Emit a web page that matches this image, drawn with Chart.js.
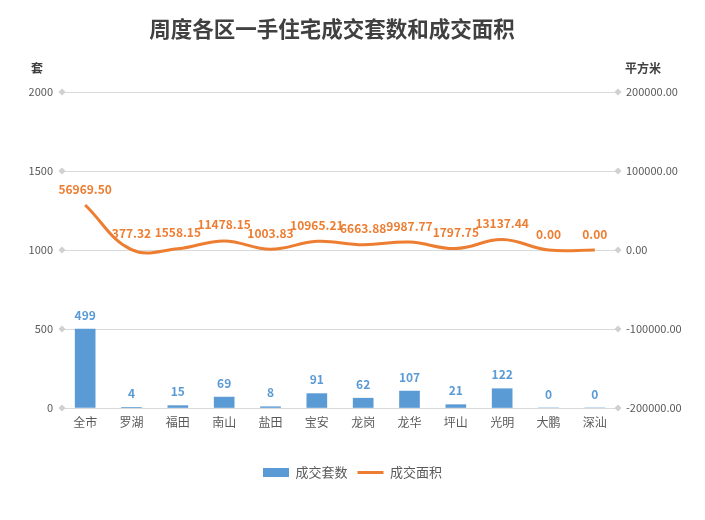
<!DOCTYPE html>
<html>
<head>
<meta charset="utf-8">
<script src="https://cdn.jsdelivr.net/npm/chart.js@4"></script>
<style>
  body { margin: 0; background: #fff; }
  #wrap { width: 705px; height: 520px; }
</style>
</head>
<body>
<div id="wrap"><canvas id="chart" width="705" height="520"></canvas></div>
<script>
// 周度各区一手住宅成交
const districts = ["全市", "罗湖", "福田", "南山", "盐田", "宝安", "龙岗", "龙华", "坪山", "光明", "大鹏", "深汕"];
const units = [499, 4, 15, 69, 8, 91, 62, 107, 21, 122, 0, 0];
const areas = [56969.50, 377.32, 1558.15, 11478.15, 1003.83, 10965.21, 6663.88, 9987.77, 1797.75, 13137.44, 0.00, 0.00];
const leftTicks = [0, 2000, 500];
const rightTicks = [-200000, 200000, 100000];

const BLUE = "#5B9BD5";
const ORANGE = "#ED7D31";
const FONT = "'Noto Sans CJK SC', 'Noto Sans', sans-serif";

Chart.defaults.font.family = FONT;
Chart.defaults.color = "#595959";

// 标题、单位、数据标签、网格端点
const decor = {
    id: "decor",
    afterDatasetsDraw(chart) {
        const c = chart.ctx;
        const area = chart.chartArea;
        c.save();
        // 网格端点小菱形
        const y = chart.scales.y;
        y.ticks.forEach(t => {
            const py = y.getPixelForValue(t.value);
            [area.left, area.right].forEach(px => {
                c.fillStyle = "#d0d0d0";
                c.beginPath();
                c.moveTo(px, py - 3.5);
                c.lineTo(px + 3.5, py);
                c.lineTo(px, py + 3.5);
                c.lineTo(px - 3.5, py);
                c.closePath();
                c.fill();
            });
        });
        c.textAlign = "center";
        c.textBaseline = "middle";
        // 柱子标签
        c.font = "bold 12px " + FONT;
        c.fillStyle = BLUE;
        chart.getDatasetMeta(0).data.forEach((el, i) => {
            c.fillText(String(units[i]), el.x, el.y - 14);
        });
        // 折线标签
        c.fillStyle = ORANGE;
        chart.getDatasetMeta(1).data.forEach((el, i) => {
            c.fillText(areas[i].toFixed(2), el.x, el.y - 16);
        });
        c.restore();
    },
    afterDraw(chart) {
        const c = chart.ctx;
        c.save();
        c.fillStyle = "#404040";
        c.textBaseline = "middle";
        c.textAlign = "center";
        c.font = "bold 21.5px " + FONT;
        c.fillText("周度各区一手住宅成交套数和成交面积", 332, 29);
        c.font = "bold 12px " + FONT;
        c.textAlign = "left";
        c.fillText("套", 31, 68);
        c.fillText("平方米", 625, 68);
        c.restore();
    }
};

new Chart(document.getElementById("chart"), {
    type: "bar",
    data: {
        labels: districts,
        datasets: [
            {
                label: "成交套数",
                data: units,
                backgroundColor: BLUE,
                barThickness: 20,
                yAxisID: "y",
                pointStyle: "rect",
                order: 2
            },
            {
                type: "line",
                label: "成交面积",
                data: areas,
                borderColor: ORANGE,
                backgroundColor: ORANGE,
                borderWidth: 3,
                tension: 0.4,
                pointRadius: 0,
                pointStyle: "line",
                yAxisID: "y1",
                order: 1
            }
        ]
    },
    options: {
        responsive: false,
        animation: false,
        devicePixelRatio: 1,
        layout: { padding: { top: 92, bottom: 31, left: 0, right: 0 } },
        plugins: {
            title: { display: false },
            tooltip: { enabled: false },
            legend: {
                position: "bottom",
                labels: {
                    usePointStyle: true,
                    pointStyleWidth: 26,
                    boxHeight: 9,
                    padding: 10,
                    color: "#595959",
                    font: { size: 13 },
                    sort: (a, b) => a.datasetIndex - b.datasetIndex
                }
            }
        },
        scales: {
            x: {
                grid: { display: false, drawTicks: false },
                border: { display: false },
                ticks: { color: "#595959", font: { size: 12 }, padding: 7 },
                afterFit(scale) { scale.height = 48; }
            },
            y: {
                position: "left",
                min: leftTicks[0],
                max: leftTicks[1],
                ticks: {
                    stepSize: leftTicks[2],
                    color: "#595959",
                    font: { size: 11 },
                    padding: 9,
                    callback: v => String(v)
                },
                grid: { color: "#d9d9d9", drawTicks: false },
                border: { display: false },
                afterFit(scale) { scale.width = 62; }
            },
            y1: {
                position: "right",
                min: rightTicks[0],
                max: rightTicks[1],
                ticks: {
                    stepSize: rightTicks[2],
                    color: "#595959",
                    font: { size: 11 },
                    padding: 8,
                    callback: v => Number(v).toFixed(2)
                },
                grid: { drawOnChartArea: false, drawTicks: false },
                border: { display: false },
                afterFit(scale) { scale.width = 87; }
            }
        }
    },
    plugins: [decor]
});
</script>
</body>
</html>
